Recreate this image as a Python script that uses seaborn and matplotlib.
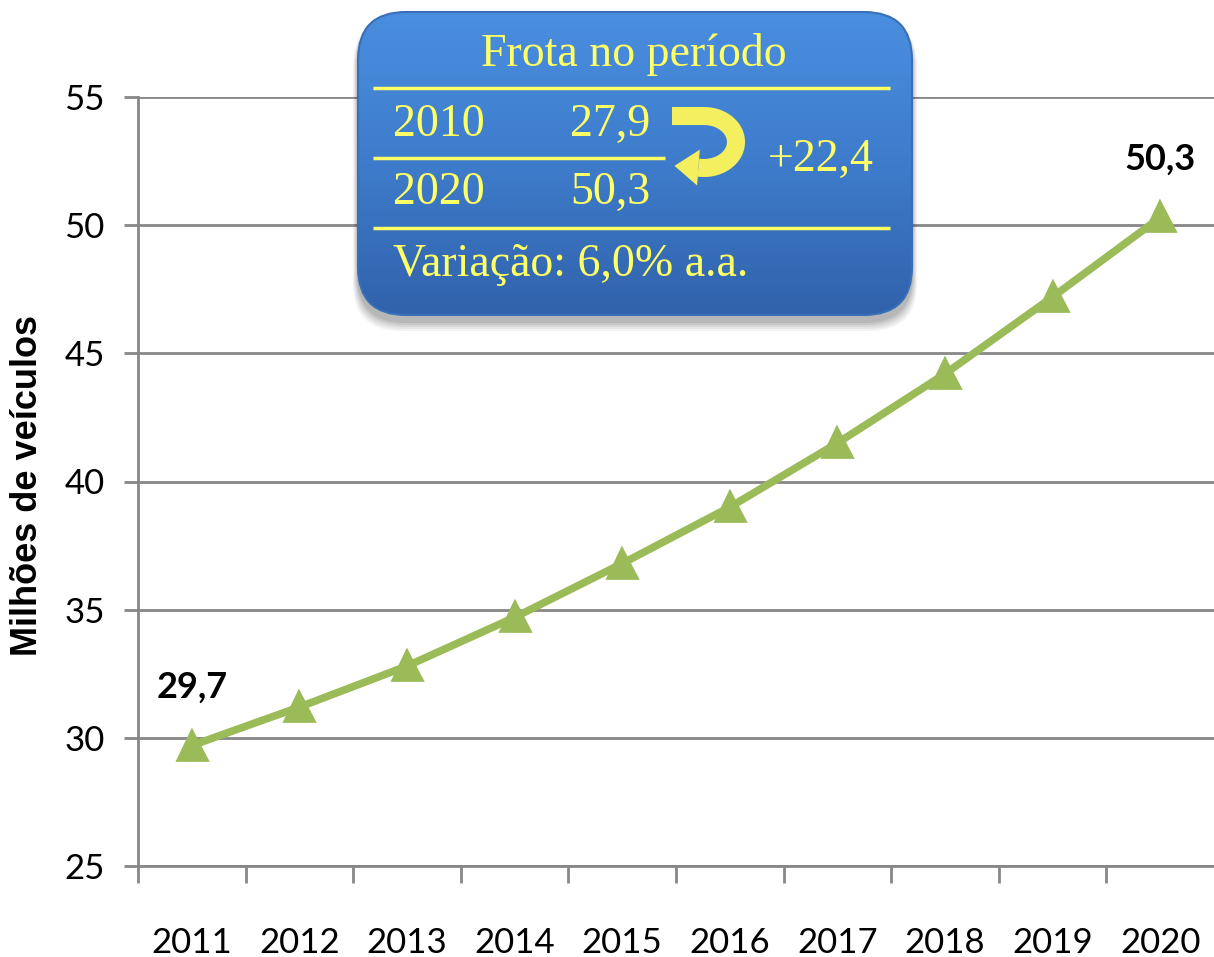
import numpy as np
import pandas as pd
import matplotlib
matplotlib.use("Agg")
import matplotlib.pyplot as plt
import seaborn as sns
from matplotlib.patches import FancyBboxPatch, Polygon
from matplotlib.colors import LinearSegmentedColormap

# data
anos = ['2011', '2012', '2013', '2014', '2015', '2016', '2017', '2018', '2019', '2020']
frota = [29.7, 31.2, 32.8, 34.7, 36.8, 39.0, 41.5, 44.2, 47.2, 50.3]
y_ticks = [25, 30, 35, 40, 45, 50, 55]

# box contents
box_titulo = 'Frota no período'
box_linhas = [('2010', '27,9'), ('2020', '50,3')]
box_delta = '+22,4'
box_variacao = 'Variação: 6,0% a.a.'

sns.set_style('white')
narrow = ['Lato', 'DejaVu Sans']
serif = ['Liberation Serif', 'DejaVu Serif']

verde = '#9bbb59'
cinza = '#878787'
amarelo = '#ffff66'

df = pd.DataFrame({'ano': anos, 'frota': frota})

fig = plt.figure(figsize=(12.14, 9.57), dpi=100)
ax = fig.add_axes([138 / 1214, 1 - 866 / 957, 1 - 138 / 1214, (866 - 97) / 957])

sns.pointplot(data=df, x='ano', y='frota', color=verde, markers='^',
              linestyles='-', markersize=18, linewidth=5.5, ax=ax)

ax.set_xlim(-0.5, 9.5)
ax.set_ylim(25, 55)
ax.set_yticks(y_ticks)
ax.set_yticklabels([str(v) for v in y_ticks], family=narrow, fontsize=25, color='black')
ax.yaxis.grid(True, color=cinza, linewidth=2)
ax.set_axisbelow(True)

# category boundaries as major ticks, labels on minor ticks
ax.set_xticks(np.arange(-0.5, 9.0, 1.0))
ax.set_xticklabels([])
ax.set_xticks(np.arange(len(anos)), minor=True)
ax.set_xticklabels(anos, minor=True, family=narrow, fontsize=25, color='black')
ax.tick_params(axis='x', which='major', bottom=True, length=12, width=2, color=cinza, direction='out')
ax.tick_params(axis='x', which='minor', bottom=True, length=0, pad=44)
ax.tick_params(axis='y', left=True, length=10, width=2, color=cinza, direction='out', pad=14)

for s in ['top', 'right']:
    ax.spines[s].set_visible(False)
for s in ['left', 'bottom']:
    ax.spines[s].set_color(cinza)
    ax.spines[s].set_linewidth(2)

ax.set_xlabel('')
ax.set_ylabel('Milhões de veículos', family=['Liberation Sans', 'DejaVu Sans'],
              fontweight='bold', fontsize=26, color='black')
ax.yaxis.set_label_coords(-0.086, 0.495)

# data labels at the ends
ax.annotate('29,7', (0, frota[0]), xytext=(0, 42), textcoords='offset points',
            ha='center', va='center', fontsize=26, fontweight='bold', family=narrow, color='black')
ax.annotate('50,3', (9, frota[-1]), xytext=(0, 42), textcoords='offset points',
            ha='center', va='center', fontsize=26, fontweight='bold', family=narrow, color='black')

# overlay in pixel coordinates for the info box
ov = fig.add_axes([0, 0, 1, 1])
ov.set_xlim(0, 1214)
ov.set_ylim(957, 0)
ov.axis('off')
ov.patch.set_alpha(0)

x0, y0, x1, y1 = 358, 12, 912, 315
r = 48
for i, a in enumerate([0.05, 0.05, 0.06, 0.07, 0.08]):
    d = 10 - 2 * i
    sh = FancyBboxPatch((x0 + r - d / 2, y0 + r + 6), x1 - x0 - 2 * r + d, y1 - y0 - 2 * r + d,
                        boxstyle=f'round,pad={r}', fc='black', ec='none', alpha=a)
    ov.add_patch(sh)

caixa = FancyBboxPatch((x0 + r, y0 + r), x1 - x0 - 2 * r, y1 - y0 - 2 * r,
                       boxstyle=f'round,pad={r}', fc='none', ec='#3a6fb8', lw=1.5)
ov.add_patch(caixa)
grad = np.linspace(0, 1, 256).reshape(-1, 1)
cmap = LinearSegmentedColormap.from_list('azul', ['#4a8ee0', '#3e7ccb', '#3162ab'])
im = ov.imshow(grad, cmap=cmap, extent=[x0, x1, y1, y0], aspect='auto', zorder=1)
im.set_clip_path(caixa)
caixa.set_zorder(2)

for yl, xr in [(88, 890), (158, 665), (228, 890)]:
    ov.plot([373, xr], [yl, yl], color=amarelo, lw=2.5, zorder=3, solid_capstyle='butt')

ov.text(634, 55, box_titulo, color=amarelo, fontsize=33, family=serif,
        ha='center', va='center', zorder=4)
for (ano, val), yt in zip(box_linhas, [125, 193]):
    ov.text(393, yt, ano, color=amarelo, fontsize=33, family=serif, ha='left', va='center', zorder=4)
    ov.text(570, yt, val, color=amarelo, fontsize=33, family=serif, ha='left', va='center', zorder=4)
ov.text(768, 160, box_delta, color=amarelo, fontsize=33, family=serif, ha='left', va='center', zorder=4)
ov.text(393, 265, box_variacao, color=amarelo, fontsize=33, family=serif, ha='left', va='center', zorder=4)

# curved U-turn arrow: thick arc plus a triangular head
cor_seta = '#f3ef5f'
cx, cy, rx, ry = 704, 142, 32, 26
t = np.deg2rad(np.linspace(-90, 100, 40))
arc_x = np.concatenate([[672], cx + rx * np.cos(t)])
arc_y = np.concatenate([[cy - ry], cy + ry * np.sin(t)])
ov.plot(arc_x, arc_y, color=cor_seta, lw=13, zorder=4, solid_capstyle='butt')
ex, ey = arc_x[-1], arc_y[-1]
dx, dy = ex - arc_x[-3], ey - arc_y[-3]
n = np.hypot(dx, dy)
dx, dy = dx / n, dy / n
px, py = -dy, dx
tip = (ex + 24 * dx, ey + 24 * dy)
head = Polygon([tip, (ex + 18 * px, ey + 18 * py), (ex - 18 * px, ey - 18 * py)],
               closed=True, fc=cor_seta, ec='none', zorder=4)
ov.add_patch(head)

fig.savefig('out.png', dpi=100)
